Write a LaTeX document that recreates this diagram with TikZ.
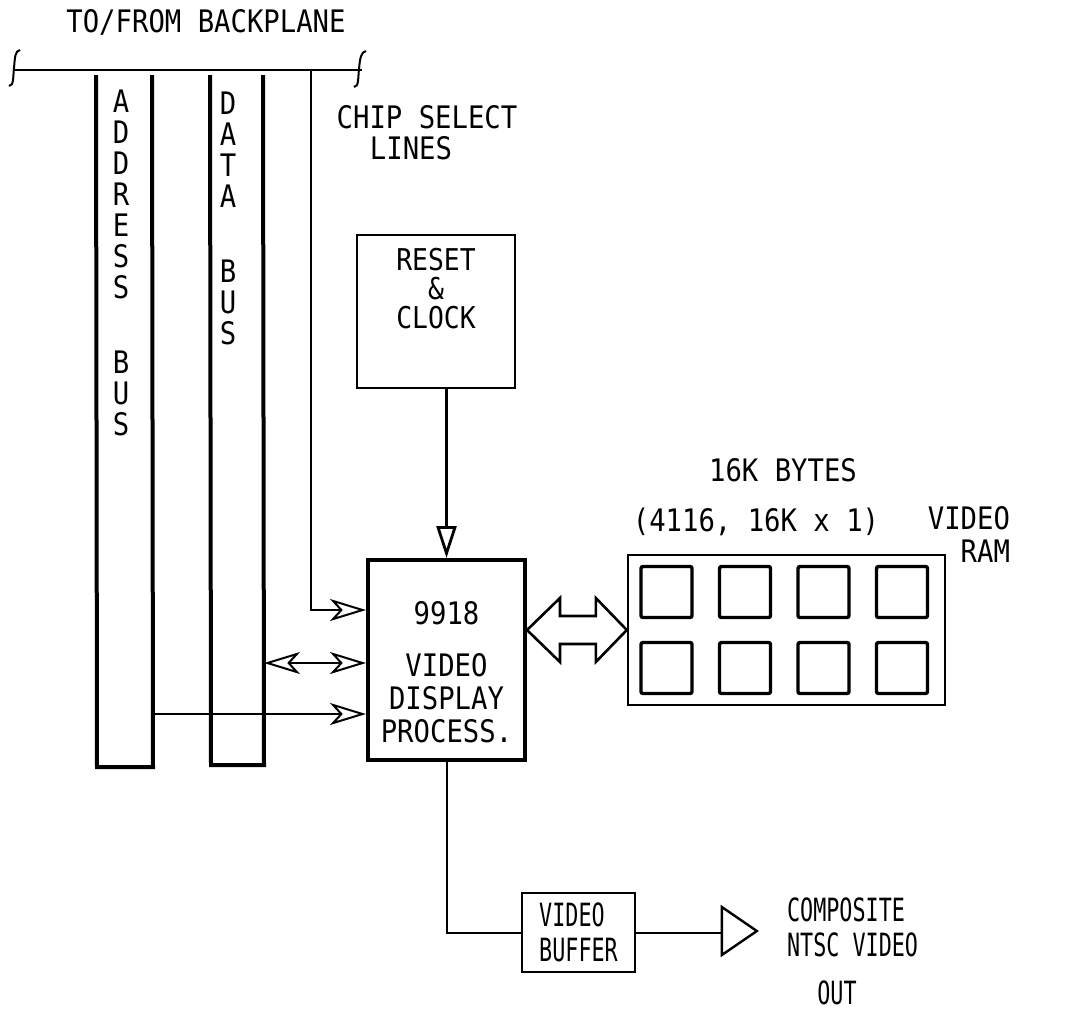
\documentclass[tikz,border=0pt]{standalone}
\usepackage{fontspec}
\newfontfamily\typefont[FakeStretch=0.88]{DejaVu Sans Mono}
\newfontfamily\typefontnarrow[FakeStretch=0.68]{DejaVu Sans Mono}
\usetikzlibrary{
  positioning,
  arrows.meta,
  calc,
  shapes.geometric
}

\begin{document}
\begin{tikzpicture}[
    x=0.5pt, y=-0.5pt,
    >={Stealth[open, length=18pt, width=11pt, inset=5pt]},
    font=\typefont\fontsize{15.5}{16.5}\selectfont,
    wire/.style={line width=1pt},
    bus/.style={line width=2pt, line join=miter},
    block/.style={draw, line width=1.2pt},
    chip/.style={draw, line width=1.7pt, minimum size=25.5pt, inner sep=0pt, rounded corners=1pt},
    narrow/.style={font=\typefontnarrow\fontsize{16}{17.5}\selectfont},
    stack/.style={align=center, inner sep=0pt, anchor=north, font=\typefont\fontsize{15.5}{15.5}\selectfont}
]
    \useasboundingbox (0,0) rectangle (1075,1013);

    % 背板
    \node (title) at (206,22) {TO/FROM BACKPLANE};
    \draw[wire] (14,70) -- (362,70);
    \draw[wire] (9,86) .. controls (14,86) and (13,76) .. (14,68) .. controls (15,57) and (15,51) .. (20,50);
    \draw[wire] (354,87) .. controls (359,87) and (358,77) .. (359,69) .. controls (360,58) and (361,52) .. (366,51);

    % 地址总线和数据总线
    \draw[bus] (96,75) -- (97,767) -- (153,767) -- (152,75);
    \draw[bus] (210,75) -- (211,765) -- (264,765) -- (263,75);
    \node[stack] (addrtxt) at (121,89) {A\\D\\D\\R\\E\\S\\S\\[22pt]B\\U\\S};
    \node[stack] (datatxt) at (228,91) {D\\A\\T\\A\\[22pt]B\\U\\S};

    % 片选线
    \coordinate (cstop) at (311,70);
    \node (cslbl) at (427,117) {CHIP SELECT};
    \node (cslbl2) at (411,148) {LINES};

    % 复位与时钟
    \node[block, minimum width=79pt, minimum height=76.5pt] (reset) at (436,311.5) {};
    \node[align=center, inner sep=0pt, below=7pt of reset.north, font=\typefont\fontsize{15}{14.5}\selectfont] (resettxt) {RESET\\\&\\CLOCK};

    % 9918 视频显示处理器
    \node[draw, line width=2pt, minimum width=78.5pt, minimum height=100pt] (vdp) at (446.5,660) {};
    \node[align=center, inner sep=0pt, below=21.5pt of vdp.north] (vdptxt) {9918\\[9.5pt]VIDEO\\DISPLAY\\PROCESS.};

    \draw[wire, line width=1.4pt, -{Triangle[open, length=16pt, width=10pt]}] (vdp.north |- reset.south) -- (vdp.north);
    \draw[wire, ->] (cstop) |- ([yshift=25pt]vdp.west);
    \coordinate (dbus) at (264,663);
    \draw[wire, <->] (dbus) -- (dbus -| vdp.west);
    \coordinate (abus) at (153,714);
    \draw[wire, ->] (abus) -- (abus -| vdp.west);

    % 视频 RAM
    \node[block, minimum width=158.5pt, minimum height=75pt] (ram) at (786.5,630) {};
    \foreach \i in {0,...,3}
      \foreach \j in {0,1}
        \node[chip] (chip\i\j) at ($(ram.center)+(-120+78.5*\i, -38+76*\j)$) {};
    \node (bytes) at (783,470) {16K BYTES};
    \node (org) at (756,522) {(4116, 16K x 1)};
    \node[align=right, anchor=east] (ramlbl) at (1017,534) {VIDEO\\RAM};

    % 双向宽箭头
    \coordinate (vL) at (vdp.east |- ram.west);
    \coordinate (vR) at (ram.west);
    \draw[line width=1.3pt] (vL) -- ++(33,-32) -- ++(0,18) -- ($(vR)+(-31,-14)$) -- ++(0,-18) -- (vR)
        -- ++(-31,32) -- ++(0,-18) -- ($(vL)+(33,14)$) -- ++(0,18) -- cycle;

    % 视频输出
    \node[block, narrow, align=left, minimum width=56.5pt, minimum height=39.5pt] (buf) at (578.5,932.5) {VIDEO\\BUFFER};
    \node[draw, line width=1.2pt, isosceles triangle, isosceles triangle stretches, minimum width=24pt, minimum height=17.5pt, inner sep=0pt] (amp) at (734.5,931) {};
    \draw[wire] (vdp.south) |- (buf.west);
    \draw[wire] (buf.east) -- (buf.east -| amp.west);
    \node[narrow, align=left, anchor=west] (outlbl) at (780,927) {COMPOSITE\\NTSC VIDEO};
    \node[narrow] (outlbl2) at (837,993) {OUT};
\end{tikzpicture}
\end{document}
